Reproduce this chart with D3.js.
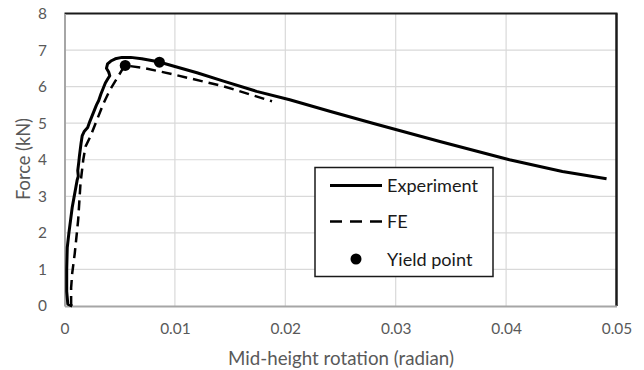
<!DOCTYPE html>
<html>
<head>
<meta charset="utf-8">
<script src="https://cdn.jsdelivr.net/npm/d3@7"></script>
<style>
  html, body { margin: 0; padding: 0; background: #fff; }
  svg { display: block; font-family: Lato, "Open Sans", sans-serif; }
</style>
</head>
<body>
<svg id="chart" width="644" height="370"></svg>
<script>
// ---- data ----
const xTicks = [0, 0.01, 0.02, 0.03, 0.04, 0.05];
const yTicks = [0, 1, 2, 3, 4, 5, 6, 7, 8];

const expRot = [0.0007, 0.0003, 0.0002, 0.0002, 0.00025, 0.0004, 0.00055, 0.0007, 0.00085, 0.001, 0.00115, 0.00125, 0.0012, 0.0013, 0.00135, 0.0015, 0.0016, 0.0018, 0.0021, 0.0023, 0.0025, 0.0027, 0.0029, 0.0031, 0.0033, 0.0035, 0.0037, 0.0039, 0.0041, 0.004, 0.0038, 0.0039, 0.0042, 0.0046, 0.0052, 0.006, 0.007, 0.0085, 0.01, 0.012, 0.0144, 0.0174, 0.0204, 0.0241, 0.028, 0.034, 0.0403, 0.0451, 0.0491];
const expForce = [0, 0.05, 0.4, 1.0, 1.6, 2.0, 2.35, 2.7, 2.95, 3.2, 3.45, 3.55, 3.7, 3.95, 4.1, 4.45, 4.65, 4.78, 4.88, 5.05, 5.2, 5.35, 5.5, 5.62, 5.8, 5.95, 6.1, 6.2, 6.3, 6.4, 6.5, 6.62, 6.7, 6.76, 6.8, 6.8, 6.76, 6.68, 6.55, 6.38, 6.15, 5.87, 5.64, 5.32, 4.99, 4.5, 4.0, 3.68, 3.48];

const feRot = [0.0006, 0.0006, 0.0007, 0.00093, 0.00124, 0.00145, 0.0017, 0.0019, 0.00235, 0.00295, 0.00355, 0.0041, 0.0047, 0.0052, 0.0055, 0.0072, 0.0099, 0.0144, 0.0188];
const feForce = [0, 0.5, 0.9, 1.44, 2.36, 3.36, 4.0, 4.36, 4.64, 5.1, 5.55, 5.9, 6.2, 6.45, 6.58, 6.51, 6.33, 6.01, 5.6];

const yieldRot = [0.0055, 0.0086];
const yieldForce = [6.58, 6.67];

const legendLabels = ["Experiment", "FE", "Yield point"];
const xTitle = "Mid-height rotation (radian)";
const yTitle = "Force (kN)";

// ---- helpers ----
function fitWidth(textSel, target) {
  const node = textSel.node();
  const fs = parseFloat(textSel.attr("font-size"));
  const w = node.getComputedTextLength();
  if (w > 0) textSel.attr("font-size", (fs * target / w).toFixed(2));
  return parseFloat(textSel.attr("font-size"));
}

// ---- layout ----
const svg = d3.select("#chart");
const L = 64.5, R = 616.5, T = 13.5, B = 306;
const x = d3.scaleLinear().domain([0, 0.05]).range([L, R]);
const y = d3.scaleLinear().domain([0, 8]).range([B, T]);

// gridlines
svg.append("g").selectAll("line").data(yTicks.filter(d => d > 0 && d < 8)).join("line")
  .attr("x1", L).attr("x2", R).attr("y1", d => y(d)).attr("y2", d => y(d))
  .attr("stroke", "#d9d9d9").attr("stroke-width", 1.2);
svg.append("g").selectAll("line").data(xTicks.filter(d => d > 0 && d < 0.05)).join("line")
  .attr("y1", T).attr("y2", B).attr("x1", d => x(d)).attr("x2", d => x(d))
  .attr("stroke", "#d9d9d9").attr("stroke-width", 1.2);

// frame: top and right black
svg.append("line").attr("x1", L).attr("x2", R + 1).attr("y1", T).attr("y2", T)
  .attr("stroke", "#1a1a1a").attr("stroke-width", 2);
svg.append("line").attr("x1", R).attr("x2", R).attr("y1", T).attr("y2", B)
  .attr("stroke", "#1a1a1a").attr("stroke-width", 2.5);

// axes (gray)
const xAxis = d3.axisBottom(x).tickValues(xTicks).tickSize(0).tickFormat(d => d === 0 ? "0" : d3.format(".2f")(d));
const gx = svg.append("g").attr("transform", `translate(0,${B})`).call(xAxis);
gx.select(".domain").attr("stroke", "#a6a6a6").attr("stroke-width", 2);
gx.selectAll("text").attr("fill", "#595959").attr("font-size", 15)
  .attr("font-family", "Lato, sans-serif");
const tickFs = fitWidth(gx.selectAll("text").filter(d => d === 0.01), 30.5);
gx.selectAll("text").attr("font-size", tickFs).attr("y", 329 - B).attr("dy", "0.35em");

const yAxis = d3.axisLeft(y).tickValues(yTicks).tickSize(0).tickFormat(d3.format("d"));
const gy = svg.append("g").attr("transform", `translate(${L},0)`).call(yAxis);
gy.select(".domain").attr("stroke", "#a6a6a6").attr("stroke-width", 2);
gy.selectAll("text").attr("fill", "#595959").attr("font-size", tickFs).attr("x", 47 - L)
  .attr("font-family", "Lato, sans-serif");

// titles
const xt = svg.append("text").attr("x", (228 + 454) / 2).attr("y", 358).attr("dy", "0.35em")
  .attr("text-anchor", "middle").attr("fill", "#595959").attr("font-size", 18).text(xTitle);
fitWidth(xt, 226);
const yt = svg.append("text").attr("transform", `translate(23.5,159) rotate(-90)`).attr("dy", "0.35em")
  .attr("text-anchor", "middle").attr("fill", "#595959").attr("font-size", 18).text(yTitle);
fitWidth(yt, 82);

// lines
const line = d3.line().x(d => x(d[0])).y(d => y(d[1]));
const expData = expRot.map((r, i) => [r, expForce[i]]);
const feData = feRot.map((r, i) => [r, feForce[i]]);
svg.append("path").datum(feData).attr("d", line).attr("fill", "none")
  .attr("stroke", "#000").attr("stroke-width", 2.5).attr("stroke-dasharray", "10,6");
svg.append("path").datum(expData).attr("d", line).attr("fill", "none")
  .attr("stroke", "#000").attr("stroke-width", 3).attr("stroke-linejoin", "round");

svg.append("g").selectAll("circle").data(yieldRot.map((r, i) => [r, yieldForce[i]])).join("circle")
  .attr("cx", d => x(d[0])).attr("cy", d => y(d[1])).attr("r", 5.5).attr("fill", "#000");

// legend
const lg = svg.append("g");
lg.append("rect").attr("x", 315).attr("y", 167.5).attr("width", 178).attr("height", 109)
  .attr("fill", "#fff").attr("stroke", "#1a1a1a").attr("stroke-width", 1.5);
const rows = [185.5, 221.5, 259];
lg.append("line").attr("x1", 330).attr("x2", 382).attr("y1", rows[0]).attr("y2", rows[0])
  .attr("stroke", "#000").attr("stroke-width", 3);
lg.append("line").attr("x1", 330).attr("x2", 382).attr("y1", rows[1]).attr("y2", rows[1])
  .attr("stroke", "#000").attr("stroke-width", 2.5).attr("stroke-dasharray", "12,8");
lg.append("circle").attr("cx", 356).attr("cy", rows[2]).attr("r", 5.5).attr("fill", "#000");
const lt = lg.selectAll("text.lab").data(legendLabels).join("text").attr("class", "lab")
  .attr("x", 387).attr("y", (d, i) => rows[i]).attr("dy", "0.36em")
  .attr("font-size", 17).attr("fill", "#1a1a1a").text(d => d);
const legFs = fitWidth(lt.filter(d => d === "Experiment"), 91);
lt.attr("font-size", legFs);
</script>
</body>
</html>
